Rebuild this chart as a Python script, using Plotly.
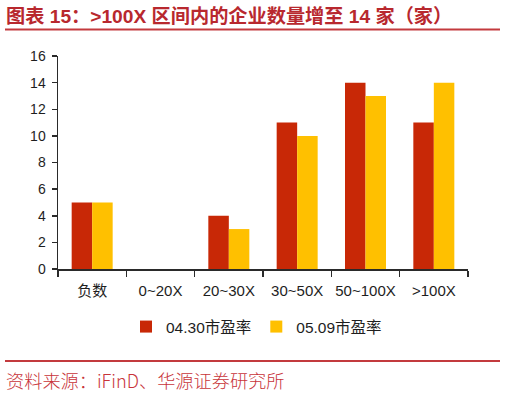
import plotly.graph_objects as go

categories = ["负数", "0~20X", "20~30X", "30~50X", "50~100X", ">100X"]
series_names = ["04.30市盈率", "05.09市盈率"]
values_0430 = [5, 0, 4, 11, 14, 11]
values_0509 = [5, 0, 3, 10, 13, 14]
colors = ["#C82806", "#FFC000"]
y_ticks = [0, 2, 4, 6, 8, 10, 12, 14, 16]

title_text = "图表 15：>100X 区间内的企业数量增至 14 家（家）"
source_text = "资料来源：iFinD、华源证券研究所"

FONT = "Liberation Sans, Arial, Noto Sans CJK SC, sans-serif"
TITLE_RED = "#B8282E"
LINE_RED = "#C33A3E"
TEXT = "#1E1E1E"
AXIS = "#2A2A2A"

fig = go.Figure()
for name, vals, c in zip(series_names, [values_0430, values_0509], colors):
    fig.add_trace(go.Bar(x=categories, y=vals, name=name, marker=dict(color=c, line=dict(width=0))))

W, H = 506, 394
L, R, T, B = 58, 38, 56, 125
pw, ph = W - L - R, H - T - B

def px_x(x):
    return (x - L) / pw

def px_y(y):
    return (H - B - y) / ph

fig.update_layout(
    width=W, height=H,
    margin=dict(l=L, r=R, t=T, b=B, pad=0),
    paper_bgcolor="white", plot_bgcolor="white",
    barmode="group", bargap=0.4, bargroupgap=0,
    font=dict(family=FONT, size=14, color=TEXT),
    showlegend=True,
    legend=dict(orientation="h", x=px_x(126), xanchor="left", y=px_y(327), yanchor="middle",
                font=dict(size=15.5, color=TEXT), itemwidth=30, traceorder="normal",
                bgcolor="rgba(0,0,0,0)"),
    xaxis=dict(showline=True, linecolor=AXIS, linewidth=1.5, ticks="outside",
               tickson="boundaries", ticklen=6, tickwidth=1.5, tickcolor=AXIS,
               showgrid=False, zeroline=False, fixedrange=True, ticklabelstandoff=7,
               tickangle=0, tickfont=dict(size=15, color=TEXT)),
    yaxis=dict(range=[0, 16], tickvals=y_ticks, showline=True, linecolor=AXIS, linewidth=1.5,
               ticks="outside", ticklen=5, tickwidth=1.5, tickcolor=AXIS,
               showgrid=False, zeroline=False, fixedrange=True, ticklabelstandoff=3,
               tickfont=dict(size=14, color=TEXT)),
    shapes=[
        dict(type="line", xref="paper", yref="paper", x0=px_x(5), x1=px_x(500),
             y0=px_y(29.5), y1=px_y(29.5), line=dict(color=LINE_RED, width=2)),
        dict(type="line", xref="paper", yref="paper", x0=px_x(5), x1=px_x(500),
             y0=px_y(361), y1=px_y(361), line=dict(color=LINE_RED, width=2)),
    ],
    annotations=[
        dict(text="<b>" + title_text + "</b>", xref="paper", yref="paper", x=px_x(4), y=px_y(15.5),
             xanchor="left", yanchor="middle", showarrow=False,
             font=dict(size=19.2, color=TITLE_RED, family="Liberation Sans, Noto Sans CJK SC, sans-serif")),
        dict(text=source_text, xref="paper", yref="paper", x=px_x(4), y=px_y(380),
             xanchor="left", yanchor="middle", showarrow=False,
             font=dict(size=18.2, color="#C8343A", family="Noto Sans CJK SC, sans-serif", weight=300)),
    ],
)

fig.write_html("out.html", config={"displayModeBar": False, "staticPlot": True},
               post_script="document.body.style.margin='0';document.body.style.overflow='hidden';")
